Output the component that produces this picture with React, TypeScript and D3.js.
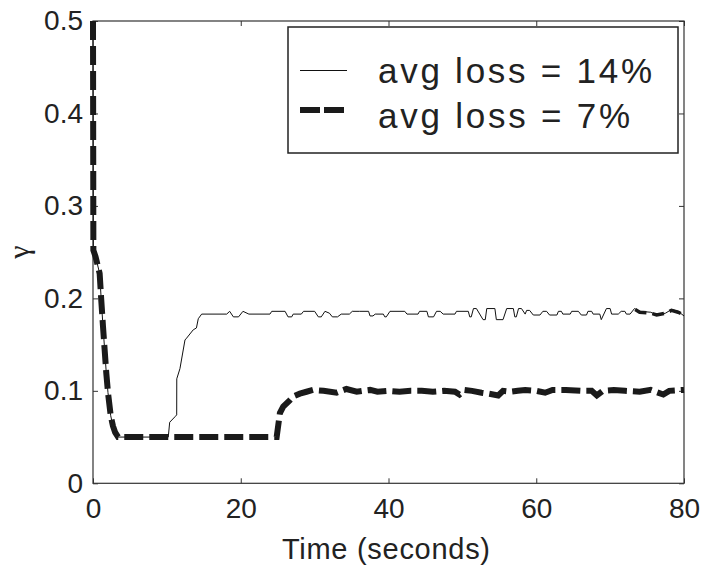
import React, { useEffect, useRef } from "react";
import * as d3 from "d3";

// gamma over time as [seconds, gamma]
const loss14: [number, number][] = [
  [0, 0.5], [0.05, 0.252], [0.35, 0.245], [0.9, 0.227], [1.12, 0.198], [1.35, 0.17],
  [1.58, 0.144], [1.8, 0.119], [2.03, 0.098], [2.4, 0.073], [2.7, 0.062], [3.0, 0.055],
  [3.4, 0.05], [10.19, 0.05], [10.38, 0.066], [11.1, 0.072], [11.33, 0.074], [11.34, 0.113],
  [11.77, 0.124], [12.45, 0.155], [12.67, 0.157], [13.57, 0.166], [14.0, 0.168],
  [14.25, 0.178], [14.71, 0.183], [18.1, 0.183], [18.5, 0.186], [19.0, 0.18], [19.7, 0.18],
  [20.3, 0.186], [21.1, 0.183], [23.95, 0.183], [24.2, 0.186], [26.0, 0.186], [26.4, 0.18],
  [26.9, 0.18], [27.1, 0.183], [28.2, 0.183], [28.5, 0.186], [30.0, 0.186], [30.5, 0.18],
  [30.9, 0.18], [31.4, 0.186], [32.0, 0.184], [32.4, 0.18], [33.1, 0.18], [33.6, 0.183],
  [34.7, 0.183], [35.1, 0.186], [36.1, 0.186], [37.3, 0.186], [37.5, 0.181], [37.9, 0.181],
  [38.2, 0.183], [39.3, 0.183], [39.5, 0.18], [39.7, 0.18], [40.2, 0.186], [42.2, 0.186],
  [42.5, 0.183], [44.0, 0.183], [44.2, 0.186], [45.2, 0.186], [45.4, 0.18], [46.1, 0.18],
  [46.5, 0.186], [47.0, 0.186], [47.4, 0.183], [49.0, 0.183], [49.2, 0.186], [50.8, 0.186],
  [51.0, 0.18], [51.2, 0.18], [51.5, 0.189], [51.9, 0.189], [52.8, 0.177], [53.1, 0.177],
  [53.3, 0.189], [54.4, 0.189], [54.6, 0.177], [55.5, 0.177], [56.0, 0.189], [56.9, 0.189],
  [57.1, 0.18], [57.3, 0.18], [57.6, 0.189], [58.0, 0.189], [58.5, 0.183], [58.7, 0.187],
  [59.1, 0.187], [59.6, 0.182], [60.5, 0.182], [60.9, 0.186], [61.4, 0.186], [61.8, 0.182],
  [62.8, 0.182], [63.0, 0.186], [63.4, 0.186], [63.6, 0.183], [64.6, 0.183], [64.8, 0.186],
  [65.7, 0.186], [66.1, 0.182], [66.8, 0.182], [67.0, 0.186], [67.5, 0.186], [67.7, 0.183],
  [68.6, 0.183], [68.8, 0.177], [69.5, 0.189], [70.0, 0.189], [70.2, 0.183], [71.1, 0.183],
  [71.5, 0.186], [72.0, 0.186], [72.2, 0.183], [72.7, 0.183], [73.3, 0.189], [74.0, 0.186],
  [75.5, 0.185], [76.3, 0.182], [77.5, 0.184], [78.3, 0.188], [79.2, 0.186], [80, 0.181],
];

// the thick smudge sitting on the 14% line near the end
const loss14Tail: [number, number][] = [
  [73.4, 0.188], [74.0, 0.185], [75.5, 0.184], [76.3, 0.182], [77.5, 0.184],
  [78.3, 0.187], [79.2, 0.185], [80, 0.182],
];

const loss7: [number, number][] = [
  [0, 0.5], [0.05, 0.252], [0.35, 0.245], [0.9, 0.227], [1.12, 0.198], [1.35, 0.17],
  [1.58, 0.144], [1.8, 0.119], [2.03, 0.098], [2.4, 0.073], [2.7, 0.062], [3.0, 0.055],
  [3.4, 0.05], [24.86, 0.05], [25.3, 0.076], [25.75, 0.083], [26.66, 0.09], [27.1, 0.094],
  [28.0, 0.097], [28.9, 0.099], [29.8, 0.101], [31.2, 0.1], [32.98, 0.098], [34.3, 0.102],
  [35.7, 0.099], [36.5, 0.1], [37.5, 0.101], [38.5, 0.099], [40.0, 0.1], [41.5, 0.099],
  [43.0, 0.1], [44.5, 0.1], [46.0, 0.099], [47.5, 0.1], [49.0, 0.099], [49.6, 0.096],
  [50.3, 0.101], [51.3, 0.1], [52.6, 0.098], [53.5, 0.097], [54.85, 0.095], [55.5, 0.1],
  [56.5, 0.099], [57.5, 0.1], [58.5, 0.101], [60.0, 0.1], [61.2, 0.098], [62.2, 0.101],
  [64.0, 0.101], [66.0, 0.1], [67.5, 0.1], [68.2, 0.095], [69.0, 0.1], [70.5, 0.101],
  [72.0, 0.1], [74.0, 0.099], [75.5, 0.101], [77.2, 0.096], [78.0, 0.1], [80, 0.101],
];

const xTicks = [0, 20, 40, 60, 80];
const yTicks = [0, 0.1, 0.2, 0.3, 0.4, 0.5];
const yTickLabels = ["0", "0.1", "0.2", "0.3", "0.4", "0.5"];
const legendLabels = ["avg loss = 14%", "avg loss = 7%"];

const FONT = "'Liberation Sans', Arial, sans-serif";
const INK = "#222";

export default function App() {
  const ref = useRef<SVGSVGElement>(null);

  useEffect(() => {
    const width = 701;
    const height = 567;
    const margin = { top: 21, left: 93, bottom: 83.7, right: 17 };
    const iwidth = width - margin.left - margin.right;
    const iheight = height - margin.top - margin.bottom;

    const svg = d3.select(ref.current);
    svg.selectAll("*").remove();

    const g = svg
      .append("g")
      .attr("transform", `translate(${margin.left},${margin.top})`);

    const x = d3.scaleLinear().domain([0, 80]).range([0, iwidth]);
    const y = d3.scaleLinear().domain([0, 0.5]).range([iheight, 0]);

    const styleAxis = (sel: any) => {
      sel.select(".domain").remove();
      sel.selectAll("line").attr("stroke", "#333");
      sel
        .selectAll("text")
        .attr("font-family", FONT)
        .attr("font-size", 28)
        .attr("fill", INK);
    };

    g.append("g")
      .attr("transform", `translate(0,${iheight})`)
      .call(
        d3.axisBottom(x).tickValues(xTicks).tickSizeInner(-5).tickSizeOuter(0)
          .tickPadding(15).tickFormat(d3.format("d"))
      )
      .call(styleAxis);

    g.append("g")
      .call(
        d3.axisLeft(y).tickValues(yTicks).tickSizeInner(-5).tickSizeOuter(0)
          .tickPadding(10).tickFormat((d, i) => yTickLabels[i])
      )
      .call(styleAxis);

    g.append("g")
      .call(d3.axisTop(x).tickValues(xTicks).tickSizeInner(-5).tickSizeOuter(0).tickFormat(() => ""))
      .call(styleAxis);

    g.append("g")
      .attr("transform", `translate(${iwidth},0)`)
      .call(d3.axisRight(y).tickValues(yTicks).tickSizeInner(-5).tickSizeOuter(0).tickFormat(() => ""))
      .call(styleAxis);

    g.append("rect")
      .attr("width", iwidth)
      .attr("height", iheight)
      .attr("fill", "none")
      .attr("stroke", "#333")
      .attr("stroke-width", 1.2);

    const line = d3
      .line<[number, number]>()
      .x(d => x(d[0]))
      .y(d => y(d[1]));

    g.append("path")
      .datum(loss14)
      .attr("d", line)
      .attr("fill", "none")
      .attr("stroke", "#111")
      .attr("stroke-width", 1);

    g.append("path")
      .datum(loss7)
      .attr("d", line)
      .attr("fill", "none")
      .attr("stroke", "#1a1a1a")
      .attr("stroke-width", 6)
      .attr("stroke-dasharray", "19,6");

    g.append("path")
      .datum(loss14Tail)
      .attr("d", line)
      .attr("fill", "none")
      .attr("stroke", "#1a1a1a")
      .attr("stroke-width", 3.5)
      .attr("stroke-dasharray", "12,6");

    // legend
    const lg = svg.append("g");
    lg.append("rect")
      .attr("x", 288)
      .attr("y", 27)
      .attr("width", 390)
      .attr("height", 126)
      .attr("fill", "white")
      .attr("stroke", "#222")
      .attr("stroke-width", 1.5);

    lg.append("line")
      .attr("x1", 300).attr("x2", 347)
      .attr("y1", 70.5).attr("y2", 70.5)
      .attr("stroke", "#111")
      .attr("stroke-width", 1);

    lg.append("line")
      .attr("x1", 300).attr("x2", 344)
      .attr("y1", 110).attr("y2", 110)
      .attr("stroke", "#1a1a1a")
      .attr("stroke-width", 6)
      .attr("stroke-dasharray", "20,4");

    const legendWidths = [274, 252];
    const legendBaselines = [83, 128];
    lg.selectAll("text.leg")
      .data(legendLabels)
      .enter()
      .append("text")
      .attr("class", "leg")
      .attr("x", 378)
      .attr("y", (d, i) => legendBaselines[i])
      .attr("textLength", (d, i) => legendWidths[i])
      .attr("lengthAdjust", "spacing")
      .attr("font-family", FONT)
      .attr("font-size", 35)
      .attr("fill", INK)
      .text(d => d);

    svg.append("text")
      .attr("x", 386)
      .attr("y", 559)
      .attr("text-anchor", "middle")
      .attr("textLength", 208)
      .attr("lengthAdjust", "spacing")
      .attr("font-family", FONT)
      .attr("font-size", 29)
      .attr("fill", INK)
      .text("Time (seconds)");

    svg.append("text")
      .attr("transform", "translate(29,252) rotate(-90)")
      .attr("text-anchor", "middle")
      .attr("font-family", "'Liberation Serif', serif")
      .attr("font-size", 30)
      .attr("fill", INK)
      .text("γ");
  }, []);

  return (
    <svg
      ref={ref}
      width={701}
      height={567}
      style={{ position: "absolute", left: 0, top: 0, background: "white" }}
    />
  );
}
